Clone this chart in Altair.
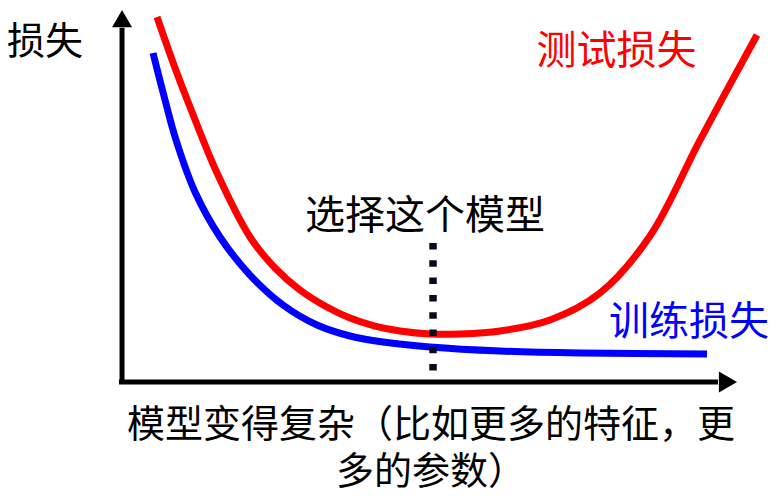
import altair as alt
import pandas as pd

# ---- data (model complexity on x, loss on y, arbitrary units) ----
test_complexity = [0.569, 0.862, 1.106, 1.545, 2.081, 2.488, 2.894, 3.301, 3.707, 4.114,
                   4.520, 5.008, 5.496, 6.146, 6.959, 7.772, 8.585, 9.398, 10.325]
test_loss = [9.812, 8.441, 7.392, 5.618, 3.898, 3.065, 2.473, 2.043, 1.720, 1.505,
             1.371, 1.290, 1.290, 1.371, 1.667, 2.392, 3.925, 6.505, 9.328]

train_complexity = [0.504, 0.699, 0.878, 1.187, 1.593, 2.081, 2.618, 3.171, 3.707, 4.244,
                    5.008, 6.146, 7.447, 9.512]
train_loss = [8.844, 7.581, 6.505, 5.108, 3.898, 2.876, 2.070, 1.532, 1.237, 1.075,
              0.941, 0.833, 0.780, 0.753]

selected_complexity = [5.057]
selected_top = [3.737]

axis_x_end = [9.69]
axis_y_end = [9.52]
arrow_x_tip_center = [9.853]
arrow_y_tip_center = [9.766]

label_text = ["损失", "测试损失", "训练损失", "选择这个模型"]
label_x = [-1.252, 8.041, 9.22, 4.927]
label_y = [9.126, 8.884, 1.599, 4.449]
label_color = ["#000000", "#ff0000", "#0000ff", "#000000"]
label_size = [38, 40, 40, 40]

x_title_text = ["模型变得复杂（比如更多的特征，更\n多的参数）"]
x_title_x = [5.025]
x_title_y = [-1.183]

# ---- scales ----
XS = alt.Scale(domain=[-1.854, 10.52], nice=False, zero=False)
YS = alt.Scale(domain=[-3.064, 10.054], nice=False, zero=False)


def X(f):
    return alt.X(f, type="quantitative", scale=XS, axis=None)


def Y(f):
    return alt.Y(f, type="quantitative", scale=YS, axis=None)


test_df = pd.DataFrame({"c": test_complexity, "loss": test_loss})
train_df = pd.DataFrame({"c": train_complexity, "loss": train_loss})

curve_red = alt.Chart(test_df).mark_line(
    color="#ff0000", strokeWidth=7, interpolate="catmull-rom", strokeCap="butt"
).encode(x=X("c"), y=Y("loss"), order="c:Q")

curve_blue = alt.Chart(train_df).mark_line(
    color="#0000ff", strokeWidth=7, interpolate="catmull-rom", strokeCap="butt"
).encode(x=X("c"), y=Y("loss"), order="c:Q")

sel_df = pd.DataFrame({"c": selected_complexity, "top": selected_top, "bottom": [0.0]})
dotted = alt.Chart(sel_df).mark_rule(
    color="#0b0b1e", strokeWidth=7.5, strokeDash=[6.5, 10.8], strokeCap="butt"
).encode(x=X("c"), y=Y("top"), y2="bottom")

x_axis_df = pd.DataFrame({"x0": [-0.05], "x1": axis_x_end, "y": [0.0]})
y_axis_df = pd.DataFrame({"x": [0.0], "y0": [-0.05], "y1": axis_y_end})

x_axis = alt.Chart(x_axis_df).mark_rule(color="black", strokeWidth=5).encode(
    x=X("x0"), x2="x1", y=Y("y"))
y_axis = alt.Chart(y_axis_df).mark_rule(color="black", strokeWidth=5).encode(
    x=X("x"), y=Y("y0"), y2="y1")

x_arrow = alt.Chart(pd.DataFrame({"x": arrow_x_tip_center, "y": [0.0]})).mark_point(
    shape="triangle-right", filled=True, size=440, color="black", opacity=1
).encode(x=X("x"), y=Y("y"))
y_arrow = alt.Chart(pd.DataFrame({"x": [0.0], "y": arrow_y_tip_center})).mark_point(
    shape="triangle-up", filled=True, size=400, color="black", opacity=1
).encode(x=X("x"), y=Y("y"))

labels_df = pd.DataFrame({"t": label_text, "x": label_x, "y": label_y,
                          "col": label_color, "sz": label_size})
labels = alt.Chart(labels_df).mark_text(
    font="Noto Sans CJK SC", align="center", baseline="middle"
).encode(
    x=X("x"), y=Y("y"), text="t:N",
    color=alt.Color("col:N", scale=None),
    size=alt.Size("sz:Q", scale=None),
)

x_title_df = pd.DataFrame({"t": x_title_text, "x": x_title_x, "y": x_title_y})
x_title = alt.Chart(x_title_df).mark_text(
    font="Noto Sans CJK SC", align="center", baseline="middle",
    fontSize=38, lineBreak="\n", lineHeight=47, color="#000000"
).encode(x=X("x"), y=Y("y"), text="t:N")

chart = alt.layer(
    curve_red, curve_blue, dotted, x_axis, y_axis, x_arrow, y_arrow, labels, x_title
).properties(
    width=761, height=488, padding=0,
    autosize=alt.AutoSizeParams(type="none"),
    background="white",
).configure_view(stroke=None)

chart.save("out.html", embed_options={"renderer": "svg", "actions": False})
